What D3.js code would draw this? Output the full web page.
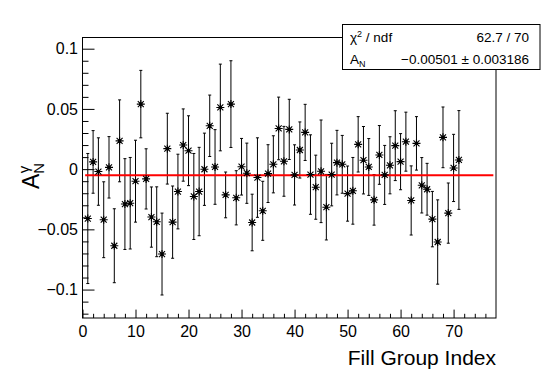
<!DOCTYPE html>
<html>
<head>
<meta charset="utf-8">
<script src="https://cdn.jsdelivr.net/npm/d3@7"></script>
<style>
  body { margin: 0; background: #fff; }
  text { font-family: "Liberation Sans", Arial, Helvetica, sans-serif; }
</style>
</head>
<body>
<svg width="552" height="375"></svg>
<script>
// fill group index of each point
const fillGroup = [1, 2, 3, 4, 5, 6, 7, 8, 9, 10, 11, 12, 13, 14, 15, 16, 17, 18, 19, 20,
  21, 22, 23, 24, 25, 26, 27, 28, 29, 30, 31, 32, 33, 34, 35, 36, 37, 38, 39, 40,
  41, 42, 43, 44, 45, 46, 47, 48, 49, 50, 51, 52, 53, 54, 55, 56, 57, 58, 59, 60,
  61, 62, 63, 64, 65, 66, 67, 68, 69, 70, 71];

// A_N^gamma per fill group
const asym = [-0.041, 0.006, -0.002, -0.042, 0.0015, -0.0636, 0.0235, -0.029, -0.0283, -0.010,
  0.054, -0.0081, -0.0398, -0.0437, -0.0705, 0.017, -0.044, -0.0186, 0.020, 0.0153,
  -0.0227, -0.0186, -0.0001, 0.036, 0.0018, 0.0512, -0.0214, 0.054, -0.0238, 0.002,
  -0.0034, -0.0443, -0.007, -0.0346, -0.0037, 0.004, 0.0338, 0.0065, 0.033, -0.0048,
  0.0159, 0.0305, -0.0045, -0.015, -0.0018, -0.0316, -0.0045, 0.0054, 0.004, -0.0203,
  -0.018, 0.0206, 0.0074, 0.0018, -0.0255, 0.0118, -0.0048, 0.0032, 0.0195, 0.0062,
  0.0228, -0.026, 0.0214, -0.0134, -0.0167, -0.0415, -0.0605, 0.0264, -0.0365, 0.001,
  0.0076];

// statistical errors
const asymErr = [0.054, 0.026, 0.028, 0.0315, 0.0255, 0.0307, 0.034, 0.0377, 0.038, 0.034,
  0.028, 0.025, 0.025, 0.029, 0.034, 0.0294, 0.030, 0.031, 0.030, 0.029,
  0.0357, 0.0367, 0.030, 0.0255, 0.031, 0.036, 0.019, 0.036, 0.0225, 0.0235,
  0.025, 0.0235, 0.033, 0.0245, 0.024, 0.0237, 0.026, 0.029, 0.025, 0.025,
  0.0233, 0.0233, 0.033, 0.0266, 0.0426, 0.0272, 0.026, 0.0268, 0.024, 0.0229,
  0.0277, 0.023, 0.028, 0.0236, 0.021, 0.0244, 0.0245, 0.0237, 0.029, 0.0233,
  0.0245, 0.0287, 0.0222, 0.023, 0.0215, 0.023, 0.035, 0.0252, 0.025, 0.0279,
  0.041];

// constant fit
const fitValue = -0.00501;
const fitRange = [0.5, 77.5];

const xMajor = [0, 10, 20, 30, 40, 50, 60, 70];
const xMinor = [2, 4, 6, 8, 12, 14, 16, 18, 22, 24, 26, 28, 32, 34, 36, 38, 42, 44, 46, 48,
  52, 54, 56, 58, 62, 64, 66, 68, 72, 74, 76];
const yMajor = [-0.1, -0.05, 0, 0.05, 0.1];
const yMajorLabels = ['\u22120.1', '\u22120.05', '0', '0.05', '0.1'];
const yMinor = [-0.12, -0.11, -0.09, -0.08, -0.07, -0.06, -0.04, -0.03, -0.02, -0.01,
  0.01, 0.02, 0.03, 0.04, 0.06, 0.07, 0.08, 0.09];

const statRows = [
  { name: ['\u03c7', '2', ' / ndf'], value: '62.7 / 70' },
  { name: ['A', 'N'], value: '\u22120.00501 \u00b1 0.003186' }
];

const frame = { left: 82.5, right: 496, top: 37.5, bottom: 318 };

const svg = d3.select('svg');

const x = d3.scaleLinear().domain([0, 78]).range([frame.left, frame.right]);
const y = d3.scaleLinear().domain([-0.1236, 0.1093]).range([frame.bottom, frame.top]);

const points = fillGroup.map((g, i) => ({ g, v: asym[i], e: asymErr[i] }));

// x axis
svg.append('g')
  .attr('transform', `translate(0,${frame.bottom})`)
  .call(d3.axisBottom(x).tickValues(xMajor).tickSize(-8.4).tickPadding(8).tickFormat(d3.format('d')))
  .call(g => g.select('.domain').remove())
  .call(g => g.selectAll('text').attr('font-size', 16).attr('fill', '#000')
    .style('font-family', '"Liberation Sans", Arial, sans-serif'));

svg.append('g')
  .attr('transform', `translate(0,${frame.bottom})`)
  .call(d3.axisBottom(x).tickValues(xMinor).tickSize(-4.2).tickFormat(''))
  .call(g => g.select('.domain').remove());

// y axis
svg.append('g')
  .attr('transform', `translate(${frame.left},0)`)
  .call(d3.axisLeft(y).tickValues(yMajor).tickSize(-12).tickPadding(4.5)
    .tickFormat((d, i) => yMajorLabels[i]))
  .call(g => g.select('.domain').remove())
  .call(g => g.selectAll('text').attr('font-size', 16).attr('fill', '#000')
    .style('font-family', '"Liberation Sans", Arial, sans-serif'));

svg.append('g')
  .attr('transform', `translate(${frame.left},0)`)
  .call(d3.axisLeft(y).tickValues(yMinor).tickSize(-6).tickFormat(''))
  .call(g => g.select('.domain').remove());

// frame
svg.append('rect')
  .attr('x', frame.left)
  .attr('y', frame.top)
  .attr('width', frame.right - frame.left)
  .attr('height', frame.bottom - frame.top)
  .attr('fill', 'none')
  .attr('stroke', '#000')
  .attr('stroke-width', 1);

// titles
svg.append('text')
  .attr('x', frame.right)
  .attr('y', 364.5)
  .attr('text-anchor', 'end')
  .attr('font-size', 21)
  .text('Fill Group Index');

const yTitle = svg.append('text')
  .attr('transform', 'translate(39,189) rotate(-90)')
  .attr('font-size', 23);
yTitle.append('tspan').text('A');
yTitle.append('tspan').attr('font-size', 15).attr('dy', 5).text('N');
yTitle.append('tspan').attr('font-size', 15).attr('dx', -10.5).attr('dy', -15).text('\u03b3');

// error bars
const bars = svg.append('g')
  .attr('stroke', '#000')
  .attr('stroke-width', 1)
  .selectAll('g')
  .data(points)
  .join('g');

bars.append('line')
  .attr('x1', d => x(d.g)).attr('x2', d => x(d.g))
  .attr('y1', d => y(d.v - d.e)).attr('y2', d => y(d.v + d.e));
bars.append('line')
  .attr('x1', d => x(d.g) - 1.5).attr('x2', d => x(d.g) + 1.5)
  .attr('y1', d => y(d.v + d.e)).attr('y2', d => y(d.v + d.e));
bars.append('line')
  .attr('x1', d => x(d.g) - 1.5).attr('x2', d => x(d.g) + 1.5)
  .attr('y1', d => y(d.v - d.e)).attr('y2', d => y(d.v - d.e));

// fit line
svg.append('line')
  .attr('x1', x(fitRange[0])).attr('x2', x(fitRange[1]))
  .attr('y1', y(fitValue)).attr('y2', y(fitValue))
  .attr('stroke', '#ff0000')
  .attr('stroke-width', 2);

// markers (star)
svg.append('g')
  .selectAll('path')
  .data(points)
  .join('path')
  .attr('transform', d => `translate(${x(d.g)},${y(d.v)})`)
  .attr('d', 'M-4,0H4M0,-4V4M-3,-3L3,3M-3,3L3,-3')
  .attr('stroke', '#000')
  .attr('stroke-width', 1.1)
  .attr('fill', 'none');

svg.append('g')
  .selectAll('rect')
  .data(points)
  .join('rect')
  .attr('x', d => x(d.g) - 1.5)
  .attr('y', d => y(d.v) - 1.5)
  .attr('width', 3)
  .attr('height', 3)
  .attr('fill', '#000');

// stats box
const box = svg.append('g');
box.append('rect')
  .attr('x', 342.5).attr('y', 24.5)
  .attr('width', 197.5).attr('height', 45)
  .attr('fill', '#fff')
  .attr('stroke', '#000');

statRows.forEach((row, i) => {
  const base = 41.5 + i * 22;
  const t = box.append('text').attr('x', 350).attr('y', base).attr('font-size', 13.5);
  if (i === 0) {
    t.append('tspan').text(row.name[0]);
    t.append('tspan').attr('font-size', 9).attr('dy', -5).text(row.name[1]);
    t.append('tspan').attr('dy', 5).text(row.name[2]);
  } else {
    t.append('tspan').text(row.name[0]);
    t.append('tspan').attr('font-size', 9).attr('dy', 3).text(row.name[1]);
  }
  box.append('text')
    .attr('x', 529).attr('y', base)
    .attr('text-anchor', 'end')
    .attr('font-size', 13.5)
    .text(row.value);
});
</script>
</body>
</html>
